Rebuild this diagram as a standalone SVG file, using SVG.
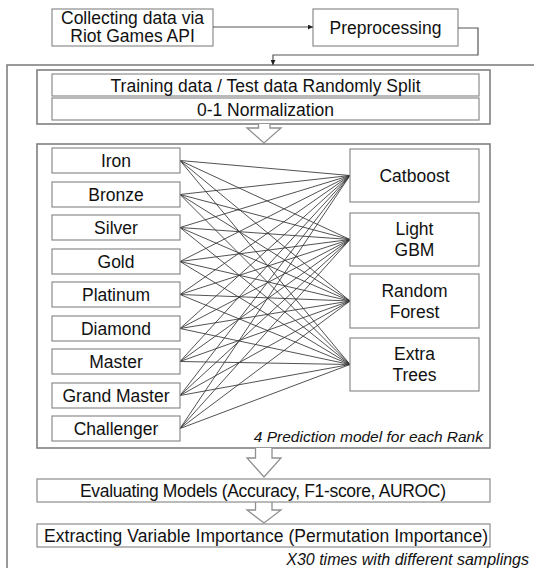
<svg xmlns="http://www.w3.org/2000/svg" width="534" height="568" viewBox="0 0 534 568">
<defs>
<style>
.bx{fill:#fff;stroke:#8c8c8c;stroke-width:1.2}
.grp{fill:none;stroke:#808080;stroke-width:1.6}
.t{font-family:"Liberation Sans",Arial,sans-serif;font-size:17.5px;fill:#111;text-anchor:middle}
.it{font-family:"Liberation Sans",Arial,sans-serif;font-style:italic;fill:#111;text-anchor:end}
.fan line{stroke:#333;stroke-width:0.85}
.ln{fill:none;stroke:#555;stroke-width:1.2}
.hol{fill:#fff;stroke:#909090;stroke-width:1.3;stroke-linejoin:miter}
</style>
<marker id="ah" viewBox="0 0 6 6" refX="6" refY="3" markerWidth="5" markerHeight="5" orient="auto" markerUnits="userSpaceOnUse">
<path d="M0,0 L6,3 L0,6 z" fill="#222"/>
</marker>
</defs>
<rect width="534" height="568" fill="#fff"/>

<g id="outer"><rect x="7" y="65" width="540" height="520" class="grp" stroke-width="1.4"/></g>

<g id="collect">
<rect x="52" y="9" width="161" height="37" class="bx"/>
<text class="t" x="132.5" y="23.5">Collecting data via</text>
<text class="t" x="132.5" y="41.5">Riot Games API</text>
</g>
<g id="preprocessing">
<rect x="313" y="9" width="145" height="37" class="bx"/>
<text class="t" x="385.5" y="34">Preprocessing</text>
</g>

<g id="split-group">
<rect x="37" y="70" width="453" height="54" class="grp"/>
<g id="split"><rect x="52" y="74" width="427" height="22" class="bx"/>
<text class="t" x="265.5" y="91.5" textLength="310">Training data / Test data Randomly Split</text></g>
<g id="normalization"><rect x="52" y="98" width="427" height="22" class="bx"/>
<text class="t" x="265.5" y="115.5">0-1 Normalization</text></g>
</g>

<g id="model-group">
<rect x="37" y="144" width="453" height="304" class="grp"/>
<text class="it" x="483" y="442" font-size="15.5">4 Prediction model for each Rank</text>
</g>

<g id="connectors">
<polyline class="ln" points="213,27 313,27" marker-end="url(#ah)"/>
<polyline class="ln" points="458,28 478,28 478,55 273,55 273,65" marker-end="url(#ah)"/>
<path class="hol" d="M258.5,124 V128 H247 L264,143 L281,128 H270 V124"/>
<path class="hol" d="M255.5,448 V458 H247 L264,477 L281,458 H272 V448"/>
<path class="hol" d="M255.5,502 V510 H247 L264,523 L281,510 H272 V502"/>
<g class="fan">
<line x1="180" y1="160.5" x2="350" y2="175.5"/><line x1="180" y1="160.5" x2="350" y2="239.5"/><line x1="180" y1="160.5" x2="350" y2="301"/><line x1="180" y1="160.5" x2="350" y2="364.5"/>
<line x1="180" y1="194.5" x2="350" y2="175.5"/><line x1="180" y1="194.5" x2="350" y2="239.5"/><line x1="180" y1="194.5" x2="350" y2="301"/><line x1="180" y1="194.5" x2="350" y2="364.5"/>
<line x1="180" y1="227.5" x2="350" y2="175.5"/><line x1="180" y1="227.5" x2="350" y2="239.5"/><line x1="180" y1="227.5" x2="350" y2="301"/><line x1="180" y1="227.5" x2="350" y2="364.5"/>
<line x1="180" y1="261.5" x2="350" y2="175.5"/><line x1="180" y1="261.5" x2="350" y2="239.5"/><line x1="180" y1="261.5" x2="350" y2="301"/><line x1="180" y1="261.5" x2="350" y2="364.5"/>
<line x1="180" y1="294.5" x2="350" y2="175.5"/><line x1="180" y1="294.5" x2="350" y2="239.5"/><line x1="180" y1="294.5" x2="350" y2="301"/><line x1="180" y1="294.5" x2="350" y2="364.5"/>
<line x1="180" y1="328.5" x2="350" y2="175.5"/><line x1="180" y1="328.5" x2="350" y2="239.5"/><line x1="180" y1="328.5" x2="350" y2="301"/><line x1="180" y1="328.5" x2="350" y2="364.5"/>
<line x1="180" y1="361.5" x2="350" y2="175.5"/><line x1="180" y1="361.5" x2="350" y2="239.5"/><line x1="180" y1="361.5" x2="350" y2="301"/><line x1="180" y1="361.5" x2="350" y2="364.5"/>
<line x1="180" y1="395.5" x2="350" y2="175.5"/><line x1="180" y1="395.5" x2="350" y2="239.5"/><line x1="180" y1="395.5" x2="350" y2="301"/><line x1="180" y1="395.5" x2="350" y2="364.5"/>
<line x1="180" y1="428.5" x2="350" y2="175.5"/><line x1="180" y1="428.5" x2="350" y2="239.5"/><line x1="180" y1="428.5" x2="350" y2="301"/><line x1="180" y1="428.5" x2="350" y2="364.5"/>
</g>
</g>

<g id="iron"><rect x="52" y="148" width="128" height="25" class="bx"/><text class="t" x="116" y="166.5">Iron</text></g>
<g id="bronze"><rect x="52" y="182" width="128" height="25" class="bx"/><text class="t" x="116" y="200.5">Bronze</text></g>
<g id="silver"><rect x="52" y="215" width="128" height="25" class="bx"/><text class="t" x="116" y="233.5">Silver</text></g>
<g id="gold"><rect x="52" y="249" width="128" height="25" class="bx"/><text class="t" x="116" y="267.5">Gold</text></g>
<g id="platinum"><rect x="52" y="282" width="128" height="25" class="bx"/><text class="t" x="116" y="300.5">Platinum</text></g>
<g id="diamond"><rect x="52" y="316" width="128" height="25" class="bx"/><text class="t" x="116" y="334.5">Diamond</text></g>
<g id="master"><rect x="52" y="349" width="128" height="25" class="bx"/><text class="t" x="116" y="367.5">Master</text></g>
<g id="grandmaster"><rect x="52" y="383" width="128" height="25" class="bx"/><text class="t" x="116" y="401.5">Grand Master</text></g>
<g id="challenger"><rect x="52" y="416" width="128" height="25" class="bx"/><text class="t" x="116" y="434.5">Challenger</text></g>

<g id="catboost"><rect x="350" y="149" width="129" height="53" class="bx"/><text class="t" x="414.5" y="181.5">Catboost</text></g>
<g id="lightgbm"><rect x="350" y="213" width="129" height="53" class="bx"/><text class="t" x="414.5" y="235">Light</text><text class="t" x="414.5" y="256">GBM</text></g>
<g id="randomforest"><rect x="350" y="274" width="129" height="54" class="bx"/><text class="t" x="414.5" y="296.5">Random</text><text class="t" x="414.5" y="317.5">Forest</text></g>
<g id="extratrees"><rect x="350" y="338" width="129" height="53" class="bx"/><text class="t" x="414.5" y="360">Extra</text><text class="t" x="414.5" y="381">Trees</text></g>

<g id="evaluating"><rect x="37" y="479" width="453" height="23" class="bx"/>
<text class="t" x="263" y="497" textLength="366">Evaluating Models (Accuracy, F1-score, AUROC)</text></g>
<g id="extracting"><rect x="37" y="524" width="453" height="23" class="bx"/>
<text class="t" x="266" y="542" textLength="444">Extracting Variable Importance (Permutation Importance)</text></g>
<text class="it" x="529" y="565" font-size="16">X30 times with different samplings</text>
</svg>
